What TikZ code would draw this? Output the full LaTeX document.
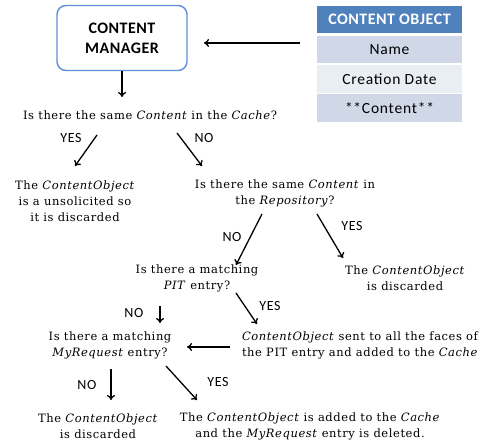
\documentclass[tikz,border=0pt]{standalone}
\usepackage{fontspec}
\setmainfont[LetterSpace=5]{DejaVu Serif}
\newfontfamily\calib[LetterSpace=5]{Carlito}
\newfontfamily\calibhead[LetterSpace=3]{Carlito}
\usetikzlibrary{arrows.meta,calc}
\definecolor{hdrblue}{HTML}{4F81BD}
\definecolor{rowdark}{HTML}{D0D8E8}
\definecolor{rowlight}{HTML}{E9EDF4}
\definecolor{mgrline}{HTML}{5B8FD6}
\begin{document}
\begin{tikzpicture}[x=1pt,y=-1pt,
  arr/.style={-{To[length=5pt,width=8pt]}, line width=1.3pt},
  q/.style={align=center, font=\fontsize{11.5}{16}\selectfont, inner sep=0pt},
  lbl/.style={font=\calib\fontsize{14}{16}\selectfont, inner sep=0pt},
  row/.style={minimum width=145pt, minimum height=27pt, inner sep=0pt, font=\calib\fontsize{15.5}{16}\selectfont}]
\useasboundingbox (0,0) rectangle (492,441);

% content manager box
\node[draw=mgrline, line width=1.4pt, rounded corners=9pt, fill=white,
      minimum width=130pt, minimum height=65pt, align=center,
      font=\calibhead\bfseries\fontsize{16}{20}\selectfont] (mgr) at (122,38) {CONTENT\\MANAGER};

% content object table
\node[row, fill=hdrblue, text=white, font=\calibhead\bfseries\fontsize{16}{16}\selectfont] (hdr) at (389.5,19.5) {CONTENT OBJECT};
\node[row, fill=rowdark] (rname) at (389.5,49.5) {Name};
\node[row, fill=rowlight, minimum height=28pt] (rdate) at (389.5,79) {Creation Date};
\node[row, fill=rowdark, minimum height=28pt] (rcont) at (389.5,108) {**Content**};

% questions and outcomes
\node[q] (q1) at (150,115) {Is there the same \textit{Content} in the \textit{Cache}?};
\node[q] (r1) at (75,201) {The \textit{ContentObject}\\is a unsolicited so\\it is discarded};
\node[q] (q2) at (285,193) {Is there the same \textit{Content} in\\the \textit{Repository}?};
\node[q] (q3) at (197,278) {Is there a matching\\\textit{PIT} entry?};
\node[q] (r2) at (405,278) {The \textit{ContentObject}\\is discarded};
\node[q] (q4) at (110,345) {Is there a matching\\\textit{MyRequest} entry?};
\node[q] (r3) at (360,345) {\textit{ContentObject} sent to all the faces of\\the PIT entry and added to the \textit{Cache}};
\node[q] (r4) at (98,426) {The \textit{ContentObject}\\is discarded};
\node[q] (r5) at (310,426) {The \textit{ContentObject} is added to the \textit{Cache}\\and the \textit{MyRequest} entry is deleted.};

% branch labels
\node[lbl] (y1) at (71,138) {YES};
\node[lbl] (n1) at (204,138) {NO};
\node[lbl] (n2) at (232,237) {NO};
\node[lbl] (y2) at (352,226) {YES};
\node[lbl] (n3) at (134,313) {NO};
\node[lbl] (y3) at (270,306) {YES};
\node[lbl] (n4) at (87,385) {NO};
\node[lbl] (y4) at (218,382) {YES};

% connectors (ends placed relative to node centres)
\draw[arr] ($(rname)+(-89.5,-6.5)$) -- ($(mgr)+(82,5)$);
\draw[arr] ($(mgr)+(0,33)$) -- ($(q1)+(-28,-18)$);
\draw[arr] ($(q1)+(-53,20)$) -- ($(r1)+(0,-35)$);
\draw[arr] ($(q1)+(27,18)$) -- ($(q2)+(-83,-27)$);
\draw[arr] ($(q2)+(-23,21)$) -- ($(q3)+(39,-13)$);
\draw[arr] ($(q2)+(32,21)$) -- ($(r2)+(-62,-20)$);
\draw[arr] ($(q3)+(-37,28)$) -- ($(q4)+(50,-22)$);
\draw[arr] ($(q3)+(39,15)$) -- ($(r3)+(-103,-21)$);
\draw[arr] ($(r3)+(-130,2)$) -- ($(q4)+(77,2)$);
\draw[arr] ($(q4)+(1,24)$) -- ($(r4)+(13,-26)$);
\draw[arr] ($(q4)+(56,21)$) -- ($(r5)+(-113,-26)$);
\end{tikzpicture}
\end{document}
